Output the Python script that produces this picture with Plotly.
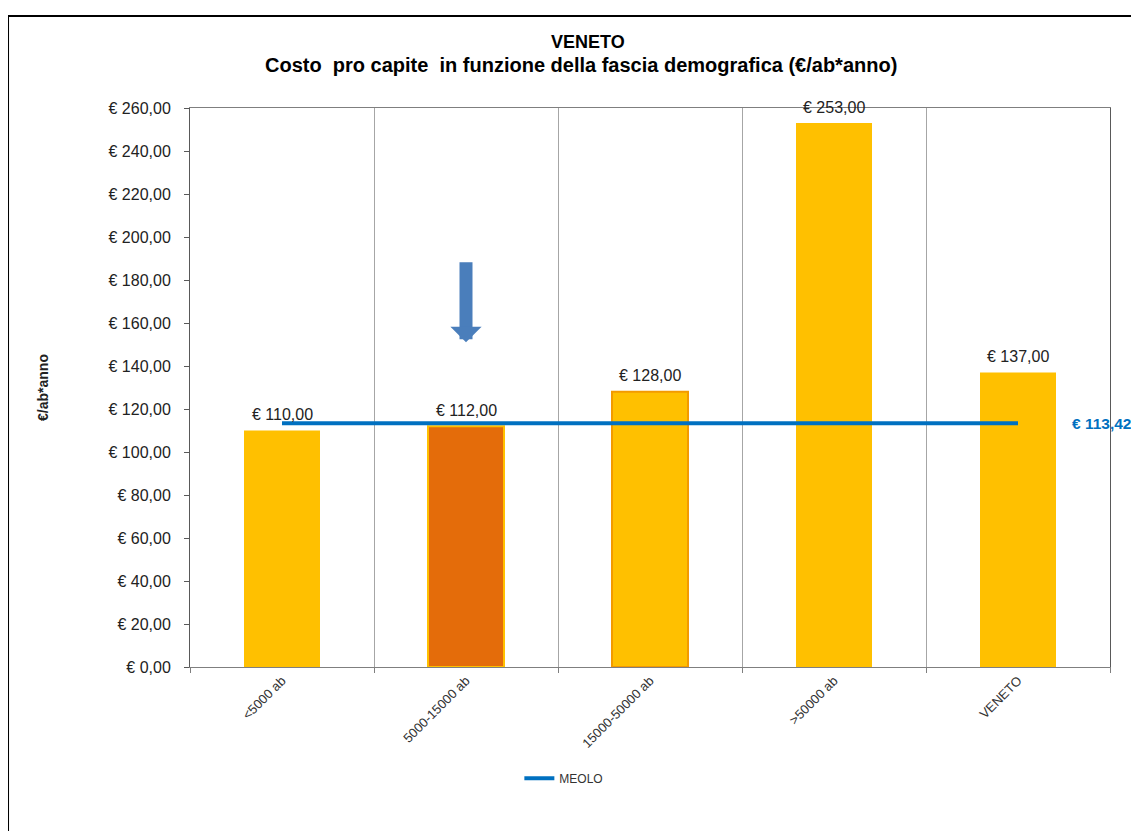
import plotly.graph_objects as go

categories = ["<5000 ab", "5000-15000 ab", "15000-50000 ab", ">50000 ab", "VENETO"]
costs = [110.00, 112.00, 128.00, 253.00, 137.00]
meolo_value = 113.42
meolo = [meolo_value] * len(categories)
bar_colors = ["#FFC000", "#E46C0A", "#FFC000", "#FFC000", "#FFC000"]
bar_line_colors = ["#FFC000", "#FFC000", "#F39A00", "#FFC000", "#FFC000"]
bar_line_widths = [0, 2, 2, 0, 0]
y_ticks = list(range(0, 261, 20))
y_ticktext = ["€ " + f"{v:.2f}".replace(".", ",") for v in y_ticks]
arrow_tip, arrow_tail = 151, 189


def eur(v):
    return "€ " + f"{v:.2f}".replace(".", ",")


FONT = "Liberation Sans, Arial, sans-serif"

fig = go.Figure()
fig.add_trace(go.Bar(
    x=categories, y=costs,
    marker=dict(color=bar_colors, line=dict(color=bar_line_colors, width=bar_line_widths)),
    showlegend=False, hoverinfo="x+y",
))
fig.add_trace(go.Scatter(
    x=categories, y=meolo, mode="lines", name="MEOLO",
    line=dict(color="#0070C0", width=4),
))

# data labels above bars
for c, v in zip(categories, costs):
    fig.add_annotation(x=c, y=v, text=eur(v), showarrow=False,
                       yanchor="middle", yshift=16,
                       font=dict(size=16, color="#222222", family=FONT))

fig.add_annotation(
    x=categories[-1], y=meolo_value, text="<b>" + eur(meolo_value) + "</b>",
    showarrow=False, xanchor="left", xshift=52,
    font=dict(size=15.5, color="#0070C0", family=FONT),
)
fig.add_annotation(
    x=categories[1], y=arrow_tip, ax=categories[1], ay=arrow_tail,
    axref="x", ayref="y", text="", showarrow=True,
    arrowhead=1, arrowsize=0.4, arrowwidth=13, arrowcolor="#4A7EBB",
)

# title lines
fig.add_annotation(xref="paper", yref="paper", x=0.433, y=1.118, text="<b>VENETO</b>",
                   showarrow=False, xanchor="center", yanchor="middle",
                   font=dict(size=18, color="black", family=FONT))
fig.add_annotation(xref="paper", yref="paper", x=0.425, y=1.077,
                   text="<b>Costo  pro capite  in funzione della fascia demografica (€/ab*anno)</b>",
                   showarrow=False, xanchor="center", yanchor="middle",
                   font=dict(size=20, color="black", family=FONT))

fig.add_shape(type="rect", xref="paper", yref="paper",
              x0=-0.1978, x1=1.2, y0=-0.6, y1=1.1646,
              line=dict(color="black", width=2), layer="below")

fig.update_layout(
    width=1131, height=823,
    margin=dict(l=182, r=29, t=100, b=164),
    paper_bgcolor="white", plot_bgcolor="white",
    font=dict(family=FONT, color="#222222"),
    separators=",.",
    bargap=0.587,
    xaxis=dict(
        type="category", tickson="boundaries", showgrid=True, gridcolor="#A6A6A6", gridwidth=1,
        showline=True, linecolor="#7F7F7F", linewidth=1, mirror=True,
        ticks="outside", ticklen=5, tickcolor="#7F7F7F", tickangle=-45,
        tickfont=dict(size=13, color="#333333", family=FONT),
        range=[-0.5, len(categories) - 0.5],
    ),
    yaxis=dict(
        range=[0, 260], tickvals=y_ticks, ticktext=y_ticktext,
        showgrid=False, zeroline=False,
        showline=True, linecolor="#595959", linewidth=1, mirror=True,
        ticks="outside", ticklen=5, tickcolor="#595959", ticklabelstandoff=10,
        tickfont=dict(size=16, color="#222222", family=FONT),
        title=dict(text="<b>€/ab*anno</b>", standoff=56,
                   font=dict(size=14, color="#222222", family=FONT)),
    ),
    legend=dict(orientation="h", x=0.358, xanchor="left", y=-0.173, yanchor="top",
                font=dict(size=12, color="#333333", family=FONT)),
)

fig.write_html("out.html")
